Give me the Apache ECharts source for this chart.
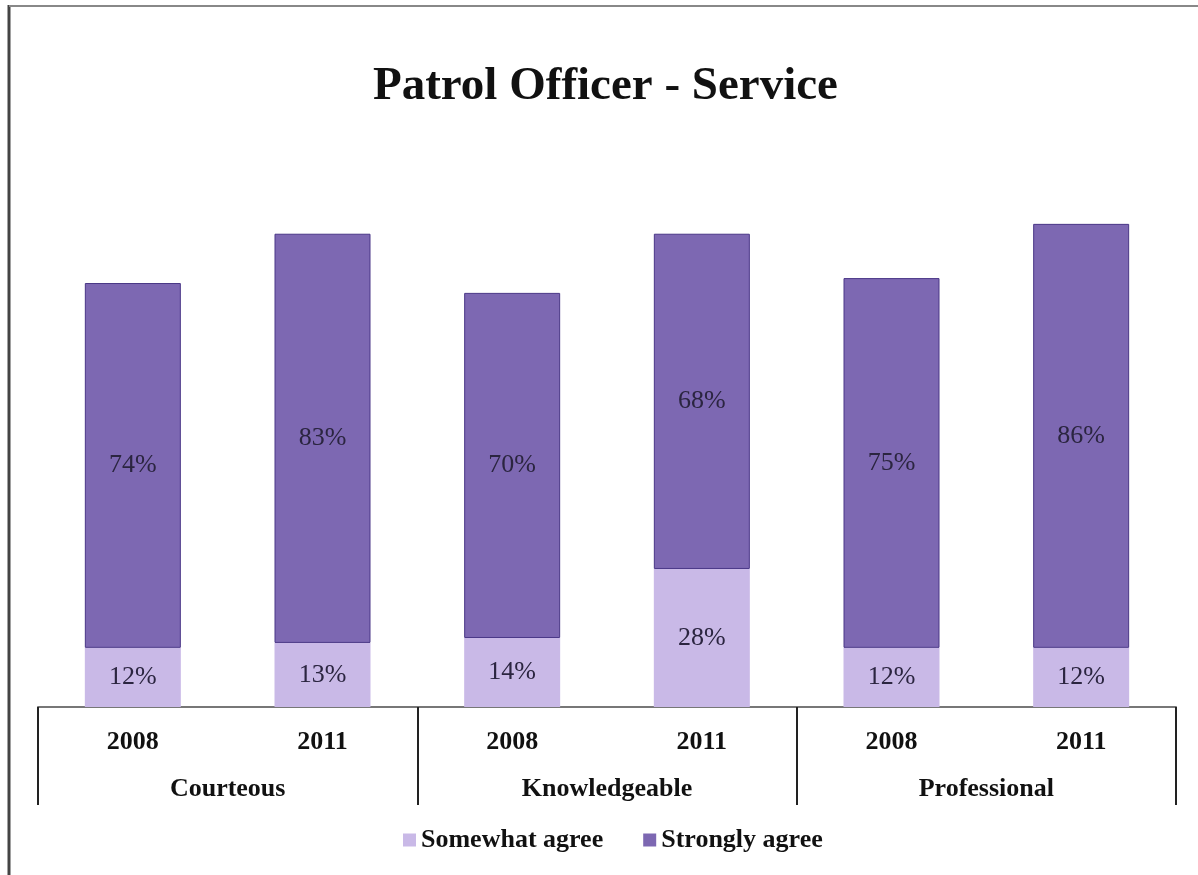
<!DOCTYPE html>
<html><head><meta charset="utf-8">
<script src="https://cdn.jsdelivr.net/npm/echarts@6/dist/echarts.min.js"></script>
<style>html,body{margin:0;padding:0;background:#fff}#c{width:1198px;height:875px}</style>
</head><body><div id="c"></div>
<script>
const years = ['2008','2011','2008','2011','2008','2011'];
const groups = ['Courteous','Knowledgeable','Professional'];
const somewhat = [12,13,14,28,12,12];
const strongly = [74,83,70,68,75,86];
const seriesNames = ['Somewhat agree','Strongly agree'];

const font = '"Liberation Serif","Times New Roman",serif';
const chart = echarts.init(document.getElementById('c'));
const lbl = {show:true, position:'inside', fontFamily:font, fontSize:26, color:'#2b2540', formatter:p=>p.value+'%'};
chart.setOption({
  animation:false,
  title:{text:'Patrol Officer - Service', left:368, top:58,
    textStyle:{fontFamily:font, fontSize:47, fontWeight:'bold', color:'#111'}},
  legend:{data:seriesNames, bottom:17, left:398, icon:'rect', itemWidth:13, itemHeight:13, itemGap:40,
    itemStyle:{borderWidth:0},
    textStyle:{fontFamily:font, fontSize:26, fontWeight:'bold', color:'#111'}},
  grid:{left:38, right:22, top:214, bottom:168},
  xAxis:[
    {type:'category', data:years, position:'bottom',
     axisLine:{show:true, lineStyle:{color:'#777', width:2}}, axisTick:{show:false},
     axisLabel:{margin:22, fontFamily:font, fontSize:26, fontWeight:'bold', color:'#111'}},
    {type:'category', data:groups, position:'bottom',
     axisLine:{show:false}, axisTick:{show:true, length:98, interval:0, lineStyle:{color:'#222', width:2}},
     axisLabel:{margin:69, fontFamily:font, fontSize:26, fontWeight:'bold', color:'#111'}}
  ],
  yAxis:{type:'value', min:0, max:100, show:false, splitLine:{show:false}},
  series:[
    {name:seriesNames[0], type:'bar', stack:'a', data:somewhat, barWidth:96,
     itemStyle:{color:'#c9b9e7'}, label:lbl},
    {name:seriesNames[1], type:'bar', stack:'a', data:strongly, barWidth:96,
     itemStyle:{color:'#7d68b2', borderColor:'#4a3787', borderWidth:1}, label:lbl}
  ],
  graphic:[
    {type:'line', shape:{x1:9, y1:5, x2:9, y2:875}, style:{stroke:'#444', lineWidth:3}},
    {type:'line', shape:{x1:9, y1:6, x2:1198, y2:6}, style:{stroke:'#888', lineWidth:2}}
  ]
});
</script></body></html>
